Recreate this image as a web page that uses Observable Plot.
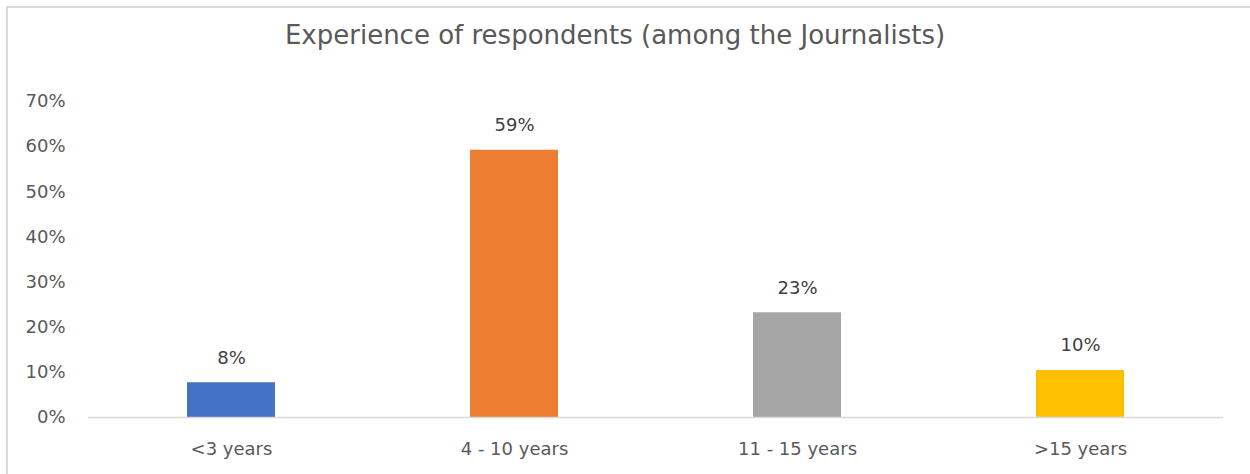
<!DOCTYPE html>
<html>
<head>
<meta charset="utf-8">
<script src="https://cdn.jsdelivr.net/npm/d3@7"></script>
<script src="https://cdn.jsdelivr.net/npm/@observablehq/plot@0.6"></script>
<style>
  html, body { margin: 0; padding: 0; background: #fff; }
  #wrap { position: relative; width: 1250px; height: 474px; overflow: hidden; font-family: "DejaVu Sans", sans-serif; }
  #frame { position: absolute; left: 6px; top: 6px; width: 1300px; height: 520px; border: 2px solid #d9d9d9; box-sizing: border-box; }
  #title { position: absolute; left: 0; width: 1230px; top: 20px; text-align: center; font-size: 26px; line-height: 1.164; color: #595959; white-space: nowrap; }
  #chart { position: absolute; left: 0; top: 80px; }
</style>
</head>
<body>
<div id="wrap">
  <div id="frame"></div>
  <div id="title">Experience of respondents (among the Journalists)</div>
  <div id="chart"></div>
</div>
<script>
const categories = ["<3 years", "4 - 10 years", "11 - 15 years", ">15 years"];
const values = [0.077, 0.592, 0.232, 0.104];
const colors = ["#4472C4", "#ED7D31", "#A5A5A5", "#FFC000"];
const yTicks = [0, 0.1, 0.2, 0.3, 0.4, 0.5, 0.6, 0.7];

const data = categories.map((c, i) => ({category: c, value: values[i], color: colors[i]}));
const pct = d3.format(".0%");

const plot = Plot.plot({
  width: 1250,
  height: 394,
  marginLeft: 88,
  marginRight: 27,
  marginTop: 21,
  marginBottom: 57,
  style: {fontFamily: "DejaVu Sans, sans-serif", fontSize: "18px", color: "#595959", background: "transparent"},
  x: {domain: categories, paddingInner: 0.69, paddingOuter: 0.345, label: null},
  y: {domain: [0, 0.7], label: null},
  marks: [
    Plot.axisY({ticks: yTicks, tickFormat: pct, tickSize: 0, tickPadding: 23, fontSize: 18, fill: "#595959"}),
    Plot.axisX({tickSize: 0, tickPadding: 25, fontSize: 18, fill: "#595959"}),
    Plot.barY(data, {x: "category", y: "value", fill: "color"}),
    Plot.ruleY([0], {stroke: "#d9d9d9", strokeWidth: 1.5}),
    Plot.text(data, {x: "category", y: "value", text: d => pct(d.value), dy: -25, fontSize: 18, fill: "#404040"})
  ]
});
document.getElementById("chart").appendChild(plot);
</script>
</body>
</html>
